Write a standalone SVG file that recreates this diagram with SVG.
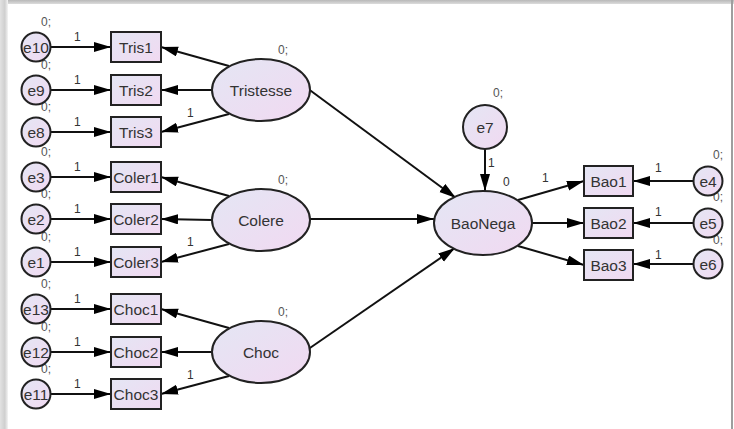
<svg xmlns="http://www.w3.org/2000/svg" width="734" height="429" viewBox="0 0 734 429">
<defs>
<linearGradient id="fill" x1="0" y1="0" x2="1" y2="1">
<stop offset="0" stop-color="#e4e6f4"/>
<stop offset="1" stop-color="#f1d9f1"/>
</linearGradient>
<linearGradient id="topband" x1="0" y1="0" x2="0" y2="1">
<stop offset="0" stop-color="#b8b8b8"/>
<stop offset="1" stop-color="#dcdcdc"/>
</linearGradient>
<linearGradient id="leftband" x1="0" y1="0" x2="1" y2="0">
<stop offset="0" stop-color="#e2e2e2"/>
<stop offset="0.6" stop-color="#cfcfcf"/>
<stop offset="1" stop-color="#f4f4f4"/>
</linearGradient>
<marker id="arr" markerUnits="userSpaceOnUse" markerWidth="18" markerHeight="11" refX="17" refY="5" orient="auto">
<path d="M0,0 L17,5 L0,10 z" fill="#000"/>
</marker>
</defs>
<style>
.n{fill:url(#fill);stroke:#222;stroke-width:2}
.t{font-family:"Liberation Sans",Arial,sans-serif;font-size:15.5px;fill:#333;text-anchor:middle}
.l{font-family:"Liberation Sans",Arial,sans-serif;font-size:12px;fill:#333}
.z{font-family:"Liberation Sans",Arial,sans-serif;font-size:12px;fill:#555}
.c line{stroke:#111;stroke-width:2;marker-end:url(#arr)}
</style>
<rect width="734" height="429" fill="#fff"/>
<rect x="0" y="0" width="734" height="4" fill="url(#topband)"/>
<rect x="0" y="0" width="8" height="429" fill="url(#leftband)"/>
<rect x="731" y="0" width="2" height="429" fill="#9e9e9e"/>

<g id="connectors" class="c">
<line x1="51" y1="47" x2="111" y2="47"/>
<line x1="51" y1="90" x2="111" y2="90"/>
<line x1="51" y1="132" x2="111" y2="132"/>
<line x1="51" y1="177" x2="111" y2="177"/>
<line x1="51" y1="219" x2="111" y2="219"/>
<line x1="51" y1="262" x2="111" y2="262"/>
<line x1="51" y1="309" x2="111" y2="309"/>
<line x1="51" y1="352" x2="111" y2="352"/>
<line x1="51" y1="394" x2="111" y2="394"/>
<line x1="229" y1="66" x2="161" y2="47"/>
<line x1="212" y1="90" x2="161" y2="90"/>
<line x1="229" y1="114" x2="161" y2="132"/>
<line x1="229" y1="196" x2="161" y2="177"/>
<line x1="212" y1="220" x2="161" y2="219"/>
<line x1="229" y1="244" x2="161" y2="262"/>
<line x1="229" y1="328" x2="161" y2="309"/>
<line x1="212" y1="352" x2="161" y2="352"/>
<line x1="229" y1="376" x2="161" y2="394"/>
<line x1="307" y1="88" x2="456" y2="198"/>
<line x1="310" y1="219" x2="434" y2="219"/>
<line x1="307" y1="350" x2="455" y2="248"/>
<line x1="485" y1="149" x2="485" y2="191"/>
<line x1="518" y1="200" x2="584" y2="181"/>
<line x1="532" y1="223" x2="584" y2="223"/>
<line x1="518" y1="246" x2="584" y2="265"/>
<line x1="694" y1="181" x2="633" y2="181"/>
<line x1="694" y1="223" x2="633" y2="223"/>
<line x1="694" y1="264" x2="633" y2="264"/>
</g>

<g id="labels">
<text class="z" x="41" y="26">0;</text>
<text class="z" x="41" y="69">0;</text>
<text class="z" x="41" y="111">0;</text>
<text class="z" x="41" y="156">0;</text>
<text class="z" x="41" y="198">0;</text>
<text class="z" x="41" y="241">0;</text>
<text class="z" x="41" y="288">0;</text>
<text class="z" x="41" y="331">0;</text>
<text class="z" x="41" y="373">0;</text>
<text class="l" x="74" y="41">1</text>
<text class="l" x="74" y="84">1</text>
<text class="l" x="74" y="126">1</text>
<text class="l" x="74" y="171">1</text>
<text class="l" x="74" y="213">1</text>
<text class="l" x="74" y="256">1</text>
<text class="l" x="74" y="303">1</text>
<text class="l" x="74" y="346">1</text>
<text class="l" x="74" y="388">1</text>
<text class="l" x="187" y="117">1</text>
<text class="l" x="187" y="246">1</text>
<text class="l" x="187" y="379">1</text>
<text class="z" x="278" y="54">0;</text>
<text class="z" x="278" y="184">0;</text>
<text class="z" x="278" y="316">0;</text>
<text class="z" x="493" y="97">0;</text>
<text class="l" x="488" y="167">1</text>
<text class="l" x="503" y="186">0</text>
<text class="l" x="542" y="182">1</text>
<text class="l" x="655" y="172">1</text>
<text class="l" x="655" y="216">1</text>
<text class="l" x="655" y="259">1</text>
<text class="z" x="713" y="159">0;</text>
<text class="z" x="713" y="201">0;</text>
<text class="z" x="713" y="244">0;</text>
</g>

<g id="e10"><circle class="n" cx="36" cy="47" r="14.5"/><text class="t" x="36" y="52.5">e10</text></g>
<g id="e9"><circle class="n" cx="36" cy="90" r="14.5"/><text class="t" x="36" y="95.5">e9</text></g>
<g id="e8"><circle class="n" cx="36" cy="132" r="14.5"/><text class="t" x="36" y="137.5">e8</text></g>
<g id="e3"><circle class="n" cx="36" cy="177" r="14.5"/><text class="t" x="36" y="182.5">e3</text></g>
<g id="e2"><circle class="n" cx="36" cy="219" r="14.5"/><text class="t" x="36" y="224.5">e2</text></g>
<g id="e1"><circle class="n" cx="36" cy="262" r="14.5"/><text class="t" x="36" y="267.5">e1</text></g>
<g id="e13"><circle class="n" cx="36" cy="309" r="14.5"/><text class="t" x="36" y="314.5">e13</text></g>
<g id="e12"><circle class="n" cx="36" cy="352" r="14.5"/><text class="t" x="36" y="357.5">e12</text></g>
<g id="e11"><circle class="n" cx="36" cy="394" r="14.5"/><text class="t" x="36" y="399.5">e11</text></g>

<g id="Tris1"><rect class="n" x="111" y="32" width="50" height="30"/><text class="t" x="136" y="52.5">Tris1</text></g>
<g id="Tris2"><rect class="n" x="111" y="75" width="50" height="30"/><text class="t" x="136" y="95.5">Tris2</text></g>
<g id="Tris3"><rect class="n" x="111" y="117" width="50" height="30"/><text class="t" x="136" y="137.5">Tris3</text></g>
<g id="Coler1"><rect class="n" x="111" y="162" width="50" height="30"/><text class="t" x="136" y="182.5">Coler1</text></g>
<g id="Coler2"><rect class="n" x="111" y="204" width="50" height="30"/><text class="t" x="136" y="224.5">Coler2</text></g>
<g id="Coler3"><rect class="n" x="111" y="247" width="50" height="30"/><text class="t" x="136" y="267.5">Coler3</text></g>
<g id="Choc1"><rect class="n" x="111" y="294" width="50" height="30"/><text class="t" x="136" y="314.5">Choc1</text></g>
<g id="Choc2"><rect class="n" x="111" y="337" width="50" height="30"/><text class="t" x="136" y="357.5">Choc2</text></g>
<g id="Choc3"><rect class="n" x="111" y="379" width="50" height="30"/><text class="t" x="136" y="399.5">Choc3</text></g>

<g id="Tristesse"><ellipse class="n" cx="261" cy="90" rx="49" ry="31"/><text class="t" x="261" y="95.5">Tristesse</text></g>
<g id="Colere"><ellipse class="n" cx="261" cy="220" rx="49" ry="31"/><text class="t" x="261" y="225.5">Colere</text></g>
<g id="Choc"><ellipse class="n" cx="261" cy="352" rx="49" ry="31"/><text class="t" x="261" y="357.5">Choc</text></g>
<g id="BaoNega"><ellipse class="n" cx="483" cy="223" rx="49" ry="32"/><text class="t" x="483" y="228.5">BaoNega</text></g>
<g id="e7"><circle class="n" cx="485" cy="127" r="22"/><text class="t" x="485" y="132.5">e7</text></g>

<g id="Bao1"><rect class="n" x="584" y="166" width="49" height="30"/><text class="t" x="608.5" y="186.5">Bao1</text></g>
<g id="Bao2"><rect class="n" x="584" y="208" width="49" height="30"/><text class="t" x="608.5" y="228.5">Bao2</text></g>
<g id="Bao3"><rect class="n" x="584" y="250" width="49" height="30"/><text class="t" x="608.5" y="270.5">Bao3</text></g>

<g id="e4"><circle class="n" cx="708" cy="181" r="14.5"/><text class="t" x="708" y="186.5">e4</text></g>
<g id="e5"><circle class="n" cx="708" cy="223" r="14.5"/><text class="t" x="708" y="228.5">e5</text></g>
<g id="e6"><circle class="n" cx="708" cy="264" r="14.5"/><text class="t" x="708" y="269.5">e6</text></g>
</svg>
